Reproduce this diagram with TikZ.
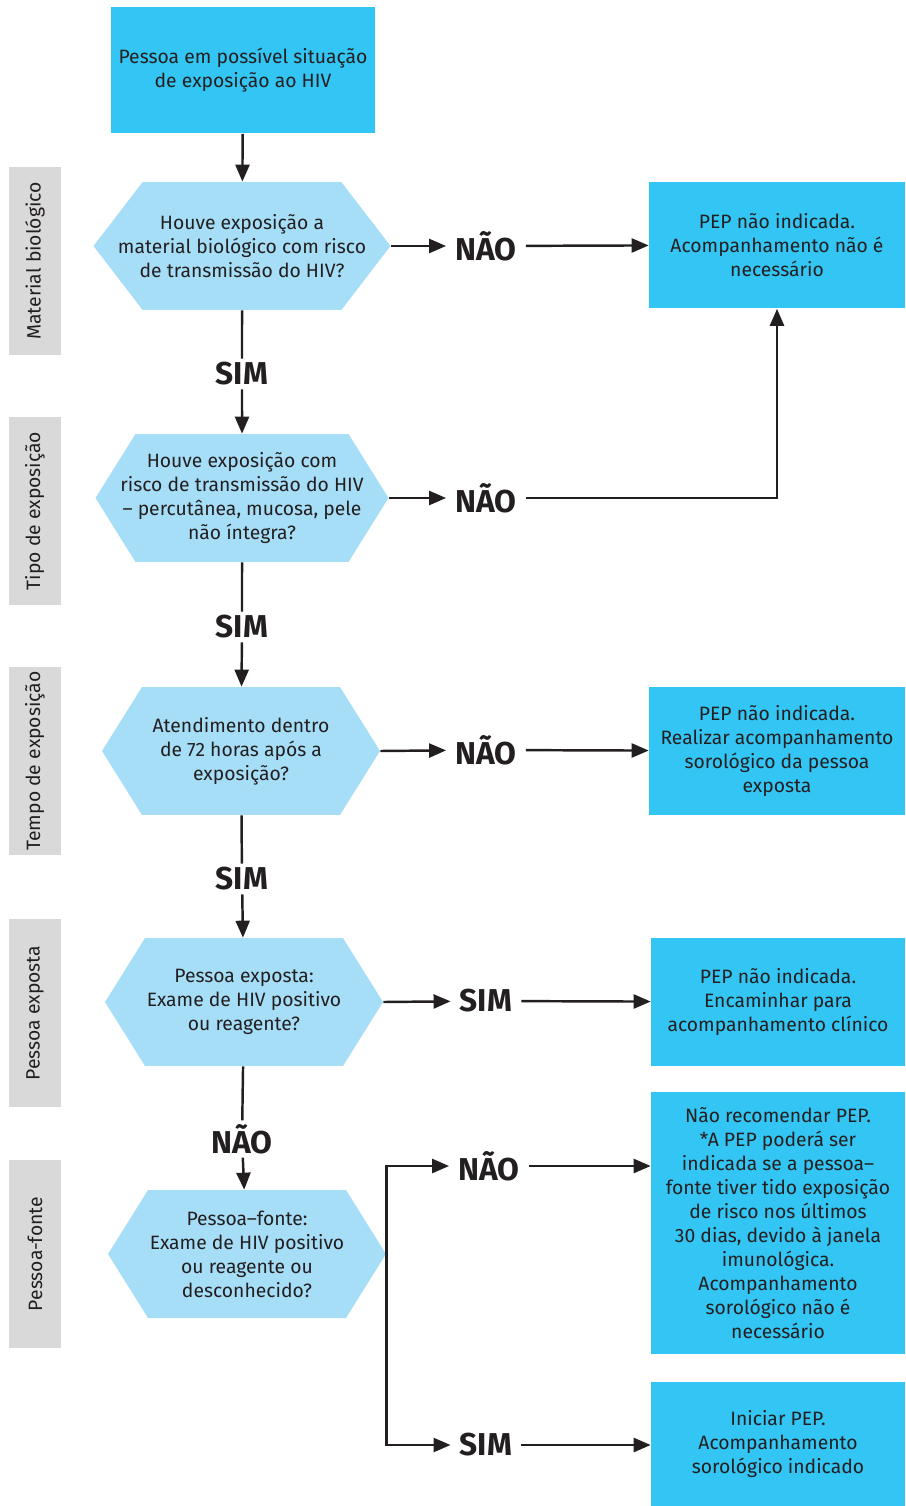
\documentclass[tikz,border=0pt]{standalone}
\usepackage{fontspec}
\setmainfont{Fira Sans}
\usetikzlibrary{arrows.meta,shapes.symbols,positioning}
\definecolor{boxblue}{HTML}{33C5F3}
\definecolor{hexblue}{HTML}{A6DEF7}
\definecolor{sidegray}{HTML}{D9D9D9}
\definecolor{ink}{HTML}{231F20}
\tikzset{
  box/.style={fill=boxblue, minimum width=5.12cm, minimum height=2.56cm, align=center, inner sep=0pt},
  ask/.style={shape=signal, signal to=west and east, signal pointer angle=116, fill=hexblue,
    minimum width=5.56cm, minimum height=2.56cm, align=center, inner xsep=-0.6cm, inner ysep=0pt},
  side/.style={fill=sidegray, minimum width=3.78cm, minimum height=1.04cm, rotate=90, inner sep=0pt},
  ans/.style={font=\fontsize{18}{18}\selectfont\bfseries, inner xsep=0.18cm, inner ysep=0.07cm},
  flow/.style={draw=ink, line width=1.4pt, -{Triangle[length=0.34cm,width=0.28cm]}},
  link/.style={draw=ink, line width=1.4pt}
}
\begin{document}
\begin{tikzpicture}[x=0.02cm, y=-0.02cm, text=ink, font=\fontsize{11}{13.7}\selectfont]
\useasboundingbox (0,0) rectangle (905,1506);
% side labels
\node[side] (lmat) at (35,261) {Material biológico};
\node[side] (ltipo) at (35,511) {Tipo de exposição};
\node[side] (ltempo) at (35,761) {Tempo de exposição};
\node[side] (lexp) at (35,1013) {Pessoa exposta};
\node[side] (lfonte) at (35,1254) {Pessoa-fonte};
% main column
\node[box, minimum width=5.28cm, minimum height=2.54cm] (start) at (243,70)
  {Pessoa em possível situação\\de exposição ao HIV};
\node[ask, minimum width=5.94cm, signal pointer angle=105] (q1) at (242,246)
  {Houve exposição a\\material biológico com risco\\de transmissão do HIV?};
\node[ask, minimum width=5.86cm] (q2) at (242,498)
  {Houve exposição com\\risco de transmissão do HIV\\– percutânea, mucosa, pele\\não íntegra?};
\node[ask] (q3) at (241,751)
  {Atendimento dentro\\de 72 horas após a\\exposição?};
\node[ask] (q4) at (244,1002)
  {Pessoa exposta:\\Exame de HIV positivo\\ou reagente?};
\node[ask] (q5) at (247,1254)
  {Pessoa–fonte:\\Exame de HIV positivo\\ou reagente ou\\desconhecido?};
% answers on the column
\node[ans] (s1) at (242,374) {SIM};
\node[ans] (s2) at (242,627) {SIM};
\node[ans] (s3) at (242,879) {SIM};
\node[ans] (n4) at (242,1139) {NÃO};
% answers to the right
\node[ans] (n1) at (486,246) {NÃO};
\node[ans] (n2) at (486,498) {NÃO};
\node[ans] (n3) at (486,750) {NÃO};
\node[ans] (s4) at (486,1001) {SIM};
\node[ans] (n5) at (489,1166) {NÃO};
\node[ans] (s5) at (486,1445) {SIM};
% results
\node[box, minimum height=2.54cm] (r1) at (777,245)
  {PEP não indicada.\\Acompanhamento não é\\necessário};
\node[box] (r2) at (777,751)
  {PEP não indicada.\\Realizar acompanhamento\\sorológico da pessoa\\exposta};
\node[box, minimum width=5.08cm] (r3) at (778,1002)
  {PEP não indicada.\\Encaminhar para\\acompanhamento clínico};
\node[box, minimum width=5.08cm, minimum height=5.26cm] (r4) at (778,1223)
  {Não recomendar PEP.\\*A PEP poderá ser\\indicada se a pessoa–\\fonte tiver tido exposição\\de risco nos últimos\\30 dias, devido à janela\\imunológica.\\Acompanhamento\\sorológico não é\\necessário};
\node[box, minimum width=5.08cm, minimum height=2.48cm] (r5) at (778,1444)
  {Iniciar PEP.\\Acompanhamento\\sorológico indicado};
% connectors
\draw[flow] (start) -- (q1);
\draw[link] (q1) -- (s1);
\draw[flow] (s1) -- (q2);
\draw[link] (q2) -- (s2);
\draw[flow] (s2) -- (q3);
\draw[link] (q3) -- (s3);
\draw[flow] (s3) -- (q4);
\draw[link] (q4) -- (n4);
\draw[flow] (n4) -- (q5);
\draw[flow] (q1.east) -- (n1);
\draw[flow] (n1) -- (r1);
\draw[flow] (q2.east) -- (n2);
\draw[flow] (n2) -| (r1);
\draw[flow] (q3.east) -- (n3);
\draw[flow] (n3) -- (r2);
\draw[flow] (q4.east) -- (s4);
\draw[flow] (s4) -- (r3);
\draw[flow] (q5.east) |- (n5);
\draw[flow] (q5.east) |- (s5);
\draw[flow] (n5) -- (n5 -| r4.west);
\draw[flow] (s5) -- (s5 -| r5.west);
\end{tikzpicture}
\end{document}
